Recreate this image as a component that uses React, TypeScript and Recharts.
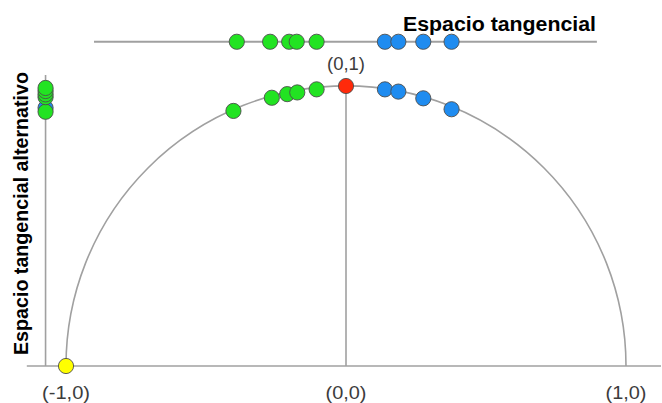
import React from 'react'
import {
  ComposedChart, Line, Scatter, XAxis, YAxis, ReferenceDot,
} from 'recharts'

// points projected on the top tangent line (y is the line height)
const tangentY = 1.158
const tangentGreenX = [-0.39, -0.271, -0.203, -0.176, -0.105]
const tangentBlueX = [0.139, 0.187, 0.276, 0.377]
const tangentEnds = [-0.9, 0.896]

// points on the unit semicircle
const arcGreenX = [-0.402, -0.265, -0.21, -0.174, -0.105]
const arcGreenY = [0.911, 0.958, 0.971, 0.977, 0.988]
const arcBlueX = [0.139, 0.187, 0.276, 0.377]
const arcBlueY = [0.988, 0.98, 0.956, 0.917]
const northPole = { x: 0, y: 1 }
const southPole = { x: -1, y: 0 }

// alternative tangent space (vertical line on the left)
const altX = -1.073
const altGreenY = [0.908, 0.96, 0.97, 0.982, 0.993]
const altBlueY = [0.922]
const altLineTop = 1.039

const axisEnds = [-1.14, 1.125]
const circleEnds = [-1, 0, 1]
const circleHeights = [0, 1, 0]

const pointLabels = [
  { x: -1, y: 0, text: '(-1,0)', width: 48 },
  { x: 0, y: 0, text: '(0,0)', width: 41 },
  { x: 1, y: 0, text: '(1,0)', width: 41 },
]

const GRAY = '#a0a0a0'
const GREEN = '#22e322'
const BLUE = '#1f8cf0'

// d3 curve factory: draws a half circle through first and last point
function semicircle(context: any) {
  let pts: number[][] = []
  return {
    areaStart() {},
    areaEnd() {},
    lineStart() { pts = [] },
    point(x: number, y: number) { pts.push([+x, +y]) },
    lineEnd() {
      if (pts.length < 2) return
      const [x0, y0] = pts[0]
      const [x1] = pts[pts.length - 1]
      context.moveTo(x0, y0)
      context.arc((x0 + x1) / 2, y0, (x1 - x0) / 2, Math.PI, 2 * Math.PI)
    },
  }
}

const dot = (fill: string) => (p: any) => (
  <circle cx={p.cx} cy={p.cy} r={7.6} fill={fill} stroke="#4d4d4d" strokeWidth={0.9} />
)

// stretched label text, placed relative to the reference dot
const pointLabel = (text: string, width: number, dy: number) => (props: any) => {
  const vb = props.viewBox || {}
  const cx = (vb.x ?? 0) + (vb.width ?? 0) / 2
  const cy = (vb.y ?? 0) + (vb.height ?? 0) / 2
  return (
    <text
      x={cx - width / 2} y={cy + dy} fontSize={18} fill="#3c3c3c"
      textLength={width} lengthAdjust="spacingAndGlyphs"
    >
      {text}
    </text>
  )
}

export default function App() {
  const tangentGreen = tangentGreenX.map((x) => ({ x, y: tangentY }))
  const tangentBlue = tangentBlueX.map((x) => ({ x, y: tangentY }))
  const arcGreen = arcGreenX.map((x, i) => ({ x, y: arcGreenY[i] }))
  const arcBlue = arcBlueX.map((x, i) => ({ x, y: arcBlueY[i] }))
  const altGreen = altGreenY.map((y) => ({ x: altX, y }))
  const altBlue = altBlueY.map((y) => ({ x: altX, y }))

  const tangentLine = tangentEnds.map((x) => ({ x, y: tangentY }))
  const altLine = [{ x: altX, y: 0 }, { x: altX, y: altLineTop }]
  const axisLine = axisEnds.map((x) => ({ x, y: 0 }))
  const centerLine = [{ x: 0, y: 0 }, northPole]
  const circle = circleEnds.map((x, i) => ({ x, y: circleHeights[i] }))

  const lineProps = {
    dataKey: 'y',
    dot: false,
    activeDot: false,
    isAnimationActive: false,
  } as const

  return (
    <div style={{ position: 'absolute', left: 0, top: 0, width: 662, height: 403, background: '#fff', fontFamily: 'Arial, "Liberation Sans", sans-serif' }}>
      <ComposedChart width={662} height={403} margin={{ top: 16, right: 1, bottom: 9, left: 24 }}>
        <XAxis type="number" dataKey="x" domain={[-1.15, 1.125]} allowDataOverflow hide />
        <YAxis type="number" dataKey="y" domain={[-0.1, 1.25]} allowDataOverflow hide />

        <Line data={tangentLine} {...lineProps} stroke={GRAY} strokeWidth={2} />
        <Line data={altLine} {...lineProps} stroke={GRAY} strokeWidth={1.6} />
        <Line data={axisLine} {...lineProps} stroke={GRAY} strokeWidth={1.6} />
        <Line data={centerLine} {...lineProps} stroke={GRAY} strokeWidth={1.6} />
        <Line data={circle} {...lineProps} type={semicircle as any} stroke={GRAY} strokeWidth={1.6} />

        <Scatter data={tangentGreen} shape={dot(GREEN)} isAnimationActive={false} />
        <Scatter data={tangentBlue} shape={dot(BLUE)} isAnimationActive={false} />
        <Scatter data={arcGreen} shape={dot(GREEN)} isAnimationActive={false} />
        <Scatter data={arcBlue} shape={dot(BLUE)} isAnimationActive={false} />
        <Scatter data={altBlue} shape={dot(BLUE)} isAnimationActive={false} />
        <Scatter data={altGreen} shape={dot(GREEN)} isAnimationActive={false} />
        <Scatter data={[northPole]} shape={dot('#ff2a0a')} isAnimationActive={false} />
        <Scatter data={[southPole]} shape={dot('#ffff00')} isAnimationActive={false} />

        <ReferenceDot
          x={northPole.x} y={northPole.y} r={1} fill="none" stroke="none"
          label={pointLabel('(0,1)', 38, -16)}
        />
        {pointLabels.map((l) => (
          <ReferenceDot
            key={l.text} x={l.x} y={l.y} r={1} fill="none" stroke="none"
            label={pointLabel(l.text, l.width, 33)}
          />
        ))}
      </ComposedChart>

      <svg width={662} height={403} style={{ position: 'absolute', left: 0, top: 0, pointerEvents: 'none' }}>
        <text x={403} y={31} fontSize={20} fontWeight="bold" fill="#000" textLength={193} lengthAdjust="spacingAndGlyphs">
          Espacio tangencial
        </text>
        <text
          x={0} y={0} fontSize={20} fontWeight="bold" fill="#000"
          textLength={283} lengthAdjust="spacingAndGlyphs"
          transform="translate(28,355) rotate(-90)"
        >
          Espacio tangencial alternativo
        </text>
      </svg>
    </div>
  )
}
